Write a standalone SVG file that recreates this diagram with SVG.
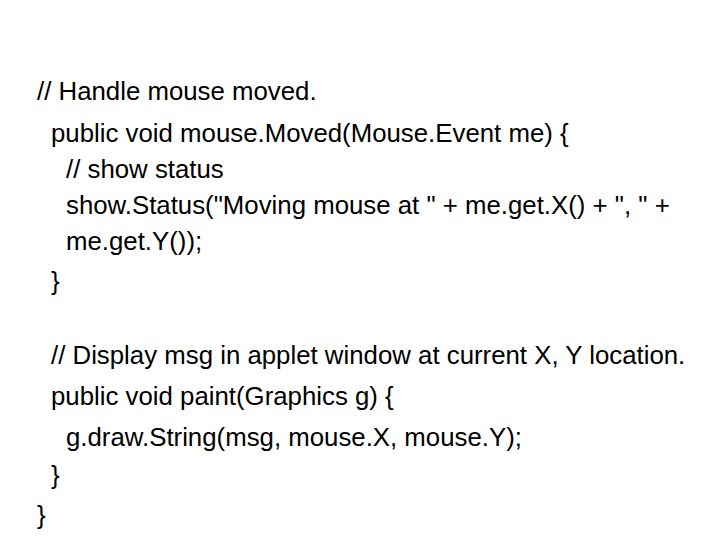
<svg xmlns="http://www.w3.org/2000/svg" width="720" height="540" viewBox="0 0 720 540">
<style>text{font-family:"Liberation Sans",Arial,sans-serif;font-size:25.8px;fill:#000}</style>
<rect width="720" height="540" fill="#fff"/>
<text x="37" y="100">// Handle mouse moved.</text>
<text x="51" y="142">public void mouse.Moved(Mouse.Event me) {</text>
<text x="66" y="178">// show status</text>
<text x="66" y="214">show.Status("Moving mouse at " + me.get.X() + ", " +</text>
<text x="66" y="250">me.get.Y());</text>
<text x="51" y="290">}</text>
<text x="51" y="364">// Display msg in applet window at current X, Y location.</text>
<text x="51" y="405">public void paint(Graphics g) {</text>
<text x="66" y="446">g.draw.String(msg, mouse.X, mouse.Y);</text>
<text x="51" y="484">}</text>
<text x="37" y="524">}</text>
</svg>
